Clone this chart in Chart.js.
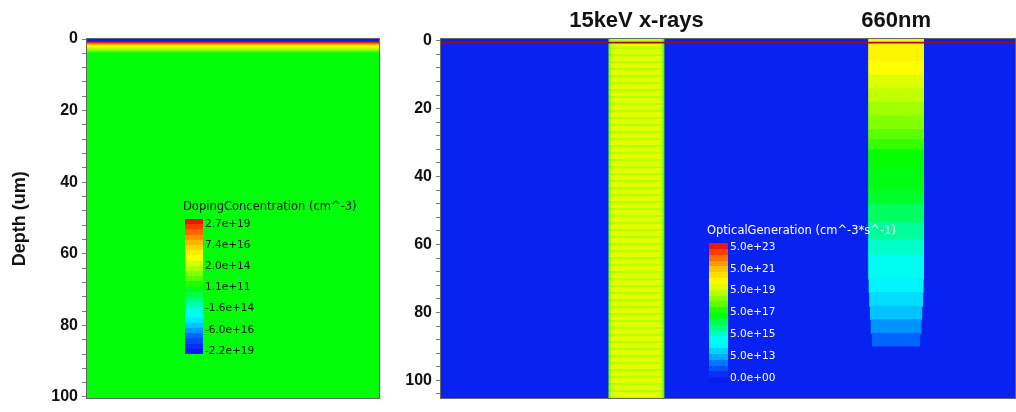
<!DOCTYPE html>
<html>
<head>
<meta charset="utf-8">
<script src="https://cdn.jsdelivr.net/npm/chart.js@4/dist/chart.umd.min.js"></script>
<style>
  html, body { margin: 0; padding: 0; background: #fff; }
  #wrap { position: relative; width: 1016px; height: 412px; overflow: hidden; }
  canvas { position: absolute; top: 0; }
  #doping { left: 0; }
  #optical { left: 395px; }
</style>
</head>
<body>
<div id="wrap">
  <canvas id="doping" width="395" height="412"></canvas>
  <canvas id="optical" width="621" height="412"></canvas>
</div>
<script>
// ---- depth axis -------------------------------------------------------
const depthTickLabels = [0, 20, 40, 60, 80, 100];
const depthMinorStep = 4;

// ---- doping profile (depth in um, concentration in cm^-3, donors < 0) --
const dopingLayerTop    = [0, 0.8, 1.2, 1.5, 1.8, 2.3, 2.8, 3.3, 3.7];
const dopingLayerBottom = [0.8, 1.2, 1.5, 1.8, 2.3, 2.8, 3.3, 3.7, 100.4];
const dopingLayerValue  = [-2.2e19, 2.7e19, 1e18, 6e16, 2.8e15, 2e14, 3e13, 2e12, 1.1e11];
const dopingScaleValues = [2.7e19, 7.4e16, 2.0e14, 1.1e11, -1.6e14, -6.0e16, -2.2e19];
const dopingScaleLabels = ['2.7e+19', '7.4e+16', '2.0e+14', '1.1e+11', '-1.6e+14', '-6.0e+16', '-2.2e+19'];
const dopingWidth = 81.6;

// ---- optical generation (cm^-3*s^-1) -----------------------------------
const opticalScaleValues = [5e23, 5e21, 5e19, 5e17, 5e15, 5e13, 0];
const opticalScaleLabels = ['5.0e+23', '5.0e+21', '5.0e+19', '5.0e+17', '5.0e+15', '5.0e+13', '0.0e+00'];
const opticalFloor = 5e11;
const deviceWidth = 168;
const deviceDepth = [-0.5, 105.3];

const beamNames = ['15keV x-rays', '660nm'];
const beamLeft  = [49, 125];
const beamRight = [65.4, 141.4];

// x-ray column: alternating mesh rows, plus the two outer columns at each side
const xrayGeneration = [1.2e20, 3e19];
const xrayEdgeGeneration = [5e17, 6e18];
const xrayEdgeWidth = 0.35;

// 660 nm column: bands of decaying generation
const redBandTop        = [-0.5, 6, 10, 14, 18, 22, 26, 29, 32, 37, 44, 48, 53.5, 58.5, 63, 70, 74, 78, 82, 86];
const redBandBottom     = [6, 10, 14, 18, 22, 26, 29, 32, 37, 44, 48, 53.5, 58.5, 63, 70, 74, 78, 82, 86, 90];
const redBandGeneration = [5e20, 3e20, 1e20, 4e19, 1.8e19, 8e18, 3e18, 1.3e18, 5e17, 2.8e17, 1.6e17,
                           5e16, 1.4e16, 4.5e15, 1.3e15, 5.6e14, 2.2e14, 9e13, 2.5e13, 8e12];
const redBandInset      = [0, 0, 0, 0, 0, 0, 0, 0, 0, 0, 0, 0, 0, 0, 0, 0.1, 0.3, 0.5, 0.7, 1.1];

// surface strip (top and bottom depth)
const surfaceStrip = [0.3, 0.8];

// ---- styling ------------------------------------------------------------
const AXIS_FONT = '"Liberation Sans", Arial, Helvetica, sans-serif';
const LEGEND_FONT = '"DejaVu Sans", Verdana, sans-serif';
const FRAME_COLOR = '#666666';
const SURFACE_COLOR = '#a20d0d';
const BAND_OVERLAP = 0.3;

const rainbow = [
  [0.00, 5, 20, 230],
  [0.06, 10, 45, 248],
  [0.13, 0, 100, 255],
  [0.20, 0, 185, 255],
  [0.27, 0, 245, 255],
  [0.31, 0, 255, 240],
  [0.38, 0, 255, 160],
  [0.45, 0, 255, 60],
  [0.50, 0, 255, 0],
  [0.57, 100, 255, 0],
  [0.65, 190, 255, 0],
  [0.72, 255, 255, 0],
  [0.80, 255, 205, 0],
  [0.87, 255, 140, 0],
  [0.94, 255, 60, 0],
  [1.00, 235, 0, 0]
];

function colorAt(t) {
  t = Math.min(1, Math.max(0, t));
  let i = 0;
  while (i < rainbow.length - 2 && t > rainbow[i + 1][0]) i++;
  const a = rainbow[i], b = rainbow[i + 1];
  const k = (t - a[0]) / (b[0] - a[0]);
  const c = [1, 2, 3].map(j => Math.round(a[j] + (b[j] - a[j]) * k));
  return `rgb(${c[0]},${c[1]},${c[2]})`;
}

// value -> position on the colour bar, piecewise linear between the bar's labelled values
function makeColorScale(values, tBottom, tTop, transform) {
  const n = values.length;
  const pts = values.map((v, i) => ({ f: transform(v), t: tTop - i * (tTop - tBottom) / (n - 1) }))
                    .sort((p, q) => p.f - q.f);
  const fn = v => {
    const f = transform(v);
    let i = 0;
    while (i < pts.length - 2 && f > pts[i + 1].f) i++;
    const p = pts[i], q = pts[i + 1];
    return Math.min(1, Math.max(0, p.t + (f - p.f) * (q.t - p.t) / (q.f - p.f)));
  };
  fn.labelT = i => tTop - i * (tTop - tBottom) / (n - 1);
  return fn;
}

const signedLog = v => (v === 0 ? 0 : Math.sign(v) * Math.log10(Math.abs(v)));
const dopingT = makeColorScale(dopingScaleValues, 0.022, 0.963, signedLog);
const opticalT = makeColorScale(opticalScaleValues, 0.036, 0.971, v => Math.log10(Math.max(v, opticalFloor)));

// a filled rectangle: a flat line at depth y0 filled down to depth y1
function rect(x0, x1, y0, y1, color) {
  return {
    data: [{ x: x0, y: y0 }, { x: x1, y: y0 }],
    fill: { value: y1 },
    backgroundColor: color,
    borderColor: 'rgba(0,0,0,0)',
    borderWidth: 0,
    pointRadius: 0,
    pointHoverRadius: 0,
    tension: 0
  };
}

// ---- shared axis helpers ------------------------------------------------
function depthAxis(min, max, axisWidth, withTitle) {
  return {
    type: 'linear',
    reverse: true,
    min: min,
    max: max,
    afterFit: s => { s.width = axisWidth; },
    afterBuildTicks: s => {
      const ticks = [];
      for (let v = 0; v <= max + 1e-9; v += depthMinorStep) ticks.push({ value: v });
      s.ticks = ticks;
    },
    ticks: {
      autoSkip: false,
      padding: 4,
      color: '#111',
      font: { family: AXIS_FONT, size: 16, weight: 'bold' },
      callback: v => (depthTickLabels.includes(v) ? String(v) : '')
    },
    grid: { drawOnChartArea: false, drawTicks: true, tickLength: 5, tickColor: '#7c7c7c', tickWidth: 1 },
    border: { display: false },
    title: {
      display: withTitle,
      text: 'Depth (um)',
      color: '#111',
      font: { family: AXIS_FONT, size: 18, weight: 'bold' },
      padding: { top: 9, bottom: 0 }
    }
  };
}

const framePlugin = {
  id: 'frame',
  afterDraw(chart) {
    const { ctx, chartArea: a } = chart;
    ctx.save();
    ctx.strokeStyle = FRAME_COLOR;
    ctx.lineWidth = 1;
    ctx.strokeRect(Math.round(a.left) - 0.5, Math.round(a.top) - 0.5,
                   Math.round(a.right - a.left) + 1, Math.round(a.bottom - a.top) + 1);
    ctx.restore();
  }
};

const colorbarPlugin = {
  id: 'colorbar',
  afterDatasetsDraw(chart, args, o) {
    const { ctx, chartArea: a } = chart;
    const bx = a.left + o.dx, by = a.top + o.dy, bw = o.w, bh = o.h;
    ctx.save();
    for (let k = 0; k < o.steps; k++) {
      const yb = Math.round(by + bh - k * bh / o.steps);
      const yt = Math.round(by + bh - (k + 1) * bh / o.steps);
      ctx.fillStyle = colorAt((k + 0.5) / o.steps);
      ctx.fillRect(bx, yt, bw, yb - yt);
    }
    ctx.fillStyle = o.textColor;
    ctx.textBaseline = 'middle';
    ctx.textAlign = 'left';
    ctx.font = `10.5px ${LEGEND_FONT}`;
    o.labels.forEach((lab, i) => {
      const y = by + bh - o.scale.labelT(i) * bh;
      ctx.fillText(lab, bx + bw + o.gap, y);
    });
    ctx.font = `11.5px ${LEGEND_FONT}`;
    ctx.fillText(o.title, a.left + o.tx, a.top + o.ty);
    ctx.restore();
  }
};

const beamLabelPlugin = {
  id: 'beamLabels',
  afterDraw(chart) {
    const { ctx, scales: { x } } = chart;
    ctx.save();
    ctx.fillStyle = '#111';
    ctx.font = `bold 22px ${AXIS_FONT}`;
    ctx.textAlign = 'center';
    ctx.textBaseline = 'alphabetic';
    beamNames.forEach((name, i) => {
      ctx.fillText(name, x.getPixelForValue((beamLeft[i] + beamRight[i]) / 2), 27);
    });
    ctx.restore();
  }
};

const baseOptions = {
  responsive: false,
  animation: false,
  events: [],
  plugins: { legend: { display: false }, tooltip: { enabled: false } }
};

// ---- doping panel --------------------------------------------------------
const dopingSets = dopingLayerTop.map((top, i) => {
  const last = i === dopingLayerTop.length - 1;
  return rect(0, dopingWidth, top, dopingLayerBottom[i] + (last ? 0 : BAND_OVERLAP),
              colorAt(dopingT(dopingLayerValue[i])));
});

new Chart(document.getElementById('doping'), {
  type: 'line',
  data: { datasets: dopingSets.reverse() },
  options: Object.assign({}, baseOptions, {
    layout: { padding: { left: 0, top: 39, right: 16, bottom: 13 } },
    scales: {
      x: { type: 'linear', display: false, min: 0, max: dopingWidth },
      y: depthAxis(0, dopingLayerBottom[dopingLayerBottom.length - 1], 87, true)
    },
    plugins: Object.assign({}, baseOptions.plugins, {
      colorbar: {
        dx: 98, dy: 180, w: 18, h: 135, steps: 26, gap: 2, tx: 96, ty: 168,
        title: 'DopingConcentration (cm^-3)', labels: dopingScaleLabels,
        scale: dopingT, textColor: '#111'
      }
    })
  }),
  plugins: [colorbarPlugin, framePlugin]
});

// ---- optical generation panel ------------------------------------------
const optCtx = document.getElementById('optical').getContext('2d');
const stripe = document.createElement('canvas');
stripe.width = 4; stripe.height = 7;
const sctx = stripe.getContext('2d');
sctx.fillStyle = colorAt(opticalT(xrayGeneration[0]));
sctx.fillRect(0, 0, 4, 5);
sctx.fillStyle = colorAt(opticalT(xrayGeneration[1]));
sctx.fillRect(0, 5, 4, 2);
const xrayPattern = optCtx.createPattern(stripe, 'repeat');

const [dTop, dBottom] = deviceDepth;
const opticalLayers = [];
opticalLayers.push(rect(0, deviceWidth, dTop, dBottom, colorAt(opticalT(0))));
opticalLayers.push(rect(beamLeft[0], beamRight[0], dTop, dBottom, xrayPattern));
xrayEdgeGeneration.forEach((g, k) => {
  const c = colorAt(opticalT(g));
  opticalLayers.push(rect(beamLeft[0] + k * xrayEdgeWidth, beamLeft[0] + (k + 1) * xrayEdgeWidth, dTop, dBottom, c));
  opticalLayers.push(rect(beamRight[0] - (k + 1) * xrayEdgeWidth, beamRight[0] - k * xrayEdgeWidth, dTop, dBottom, c));
});
redBandTop.forEach((top, i) => {
  const last = i === redBandTop.length - 1;
  opticalLayers.push(rect(beamLeft[1] + redBandInset[i], beamRight[1] - redBandInset[i],
                          top, redBandBottom[i] + (last ? 0 : BAND_OVERLAP),
                          colorAt(opticalT(redBandGeneration[i]))));
});
opticalLayers.push(rect(0, deviceWidth, surfaceStrip[0], surfaceStrip[1], SURFACE_COLOR));

new Chart(document.getElementById('optical'), {
  type: 'line',
  data: { datasets: opticalLayers.reverse() },
  options: Object.assign({}, baseOptions, {
    layout: { padding: { left: 0, top: 39, right: 1, bottom: 11 } },
    scales: {
      x: { type: 'linear', display: false, min: 0, max: deviceWidth },
      y: depthAxis(dTop, dBottom, 46, false)
    },
    plugins: Object.assign({}, baseOptions.plugins, {
      colorbar: {
        dx: 268, dy: 204, w: 19, h: 140, steps: 24, gap: 2, tx: 266, ty: 192,
        title: 'OpticalGeneration (cm^-3*s^-1)', labels: opticalScaleLabels,
        scale: opticalT, textColor: '#ffffff'
      }
    })
  }),
  plugins: [colorbarPlugin, framePlugin, beamLabelPlugin]
});
</script>
</body>
</html>
